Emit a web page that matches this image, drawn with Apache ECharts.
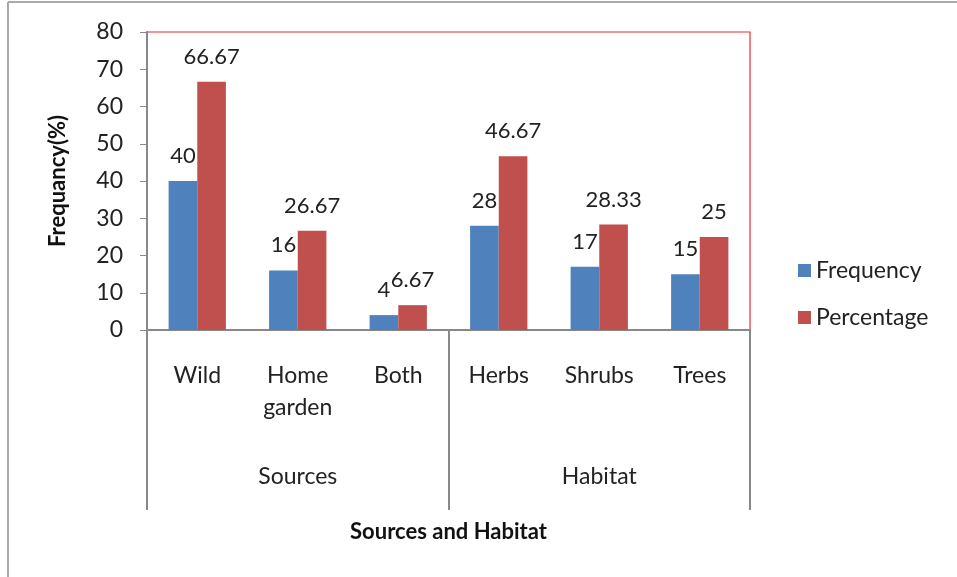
<!DOCTYPE html>
<html><head><meta charset="utf-8">
<script src="https://cdn.jsdelivr.net/npm/echarts@6/dist/echarts.min.js"></script>
<style>html,body{margin:0;padding:0;background:#fff}#c{width:957px;height:577px}</style>
</head><body><div id="c"></div>
<script>
const categories = ['Wild', 'Home\ngarden', 'Both', 'Herbs', 'Shrubs', 'Trees'];
const groups = ['Sources', 'Habitat'];
const frequency = [40, 16, 4, 28, 17, 15];
const percentage = [66.67, 26.67, 6.67, 46.67, 28.33, 25];
const yTicks = { min: 0, max: 80, interval: 10 };

const font = 'Lato, "Open Sans", sans-serif';
const chart = echarts.init(document.getElementById('c'));
chart.setOption({
  animation: false,
  textStyle: { fontFamily: font },
  grid: { left: 147, right: 207, top: 32, bottom: 247, show: true, borderColor: '#e62e32', borderWidth: 1.2, backgroundColor: 'transparent' },
  legend: {
    orient: 'vertical', left: 793, top: 254, itemWidth: 13, itemHeight: 13, itemGap: 24,
    icon: 'rect', textStyle: { fontSize: 23, color: '#222', fontFamily: font },
    data: ['Frequency', 'Percentage']
  },
  xAxis: [
    {
      type: 'category', data: categories, position: 'bottom',
      axisLine: { show: true, lineStyle: { color: '#888', width: 2 } },
      axisTick: { show: false },
      axisLabel: { fontSize: 23, color: '#222', margin: 30, lineHeight: 32, interval: 0 }
    },
    {
      type: 'category', data: groups, position: 'bottom',
      axisLine: { show: false },
      axisTick: { show: true, length: 180, lineStyle: { color: '#888', width: 2 } },
      axisLabel: { fontSize: 23, color: '#222', margin: 135 },
      name: 'Sources and Habitat', nameLocation: 'middle', nameGap: 191,
      nameTextStyle: { fontSize: 22, fontWeight: 'bold', color: '#111' }
    }
  ],
  yAxis: {
    type: 'value', min: yTicks.min, max: yTicks.max, interval: yTicks.interval,
    axisLine: { show: true, lineStyle: { color: '#888', width: 2 } },
    axisTick: { show: true, length: 7, lineStyle: { color: '#888' } },
    splitLine: { show: false },
    axisLabel: { fontSize: 23, color: '#222', margin: 24 },
    name: 'Frequancy(%)', nameLocation: 'middle', nameGap: 78,
    nameTextStyle: { fontSize: 22, fontWeight: 'bold', color: '#111' }
  },
  series: [
    {
      name: 'Frequency', type: 'bar', data: frequency, xAxisIndex: 0,
      barGap: '0%', barCategoryGap: '43%',
      itemStyle: { color: '#4F81BD' },
      label: { show: true, position: 'top', distance: 14, fontSize: 22, color: '#222' }
    },
    {
      name: 'Percentage', type: 'bar', data: percentage, xAxisIndex: 0,
      barGap: '0%', barCategoryGap: '43%',
      itemStyle: { color: '#C0504D' },
      label: { show: true, position: 'top', distance: 14, fontSize: 22, color: '#222' }
    }
  ],
  graphic: [
    { type: 'line', shape: { x1: 8, y1: 2, x2: 8, y2: 577 }, style: { stroke: '#aaa', lineWidth: 2 } },
    { type: 'line', shape: { x1: 8, y1: 2, x2: 957, y2: 2 }, style: { stroke: '#aaa', lineWidth: 2 } }
  ]
});
</script></body></html>
